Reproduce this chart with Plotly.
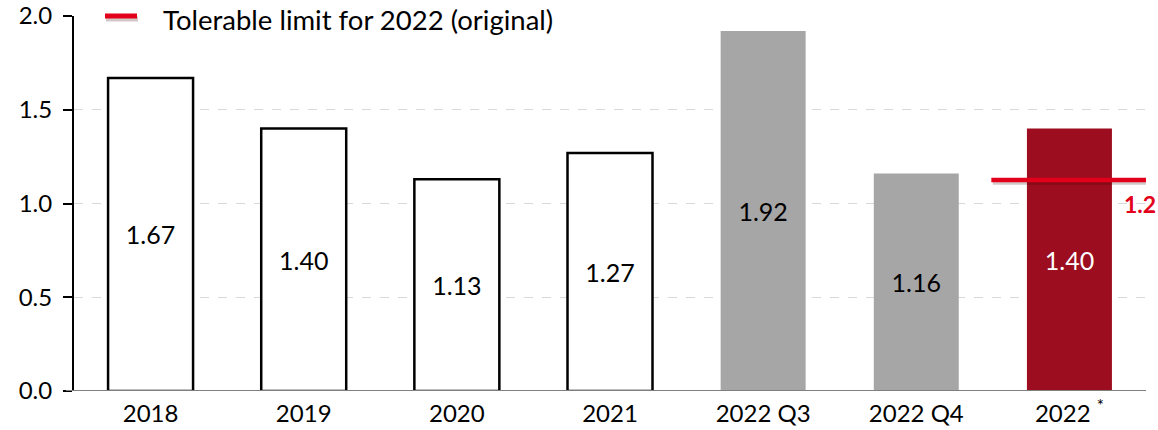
import plotly.graph_objects as go

categories = ["2018", "2019", "2020", "2021", "2022 Q3", "2022 Q4", "2022"]
tick_labels = ["2018", "2019", "2020", "2021", "2022 Q3", "2022 Q4", "2022 <sup>*</sup>"]
values = [1.67, 1.40, 1.13, 1.27, 1.92, 1.16, 1.40]
fill_colors = ["#ffffff", "#ffffff", "#ffffff", "#ffffff", "#a6a6a6", "#a6a6a6", "#9b0d1f"]
line_colors = ["#000000", "#000000", "#000000", "#000000", "#a6a6a6", "#a6a6a6", "#9b0d1f"]
line_widths = [2.5, 2.5, 2.5, 2.5, 0, 0, 0]
text_colors = ["#000000"] * 6 + ["#ffffff"]

limit_level = 1.125
limit_label = "1.2"
legend_text = "Tolerable limit for 2022 (original)"

FONT = "Lato"
RED = "#e2001a"
PW = 1072  # plot width in px
PH = 375   # plot height in px

fig = go.Figure()
fig.add_trace(go.Bar(
    x=list(range(len(categories))), y=values,
    width=0.555,
    marker=dict(color=fill_colors, line=dict(color=line_colors, width=line_widths)),
    text=[f"{v:.2f}" for v in values],
    textposition="inside", insidetextanchor="middle",
    textfont=dict(family=FONT, size=25, color=text_colors),
    showlegend=False,
))

shapes = [
    # limit line shadow + line
    dict(type="line", xref="x", yref="y", x0=5.5, x1=6.51, y0=limit_level - 0.012, y1=limit_level - 0.012,
         line=dict(color="rgba(60,0,0,0.22)", width=5)),
    dict(type="line", xref="x", yref="y", x0=5.49, x1=6.5, y0=limit_level, y1=limit_level,
         line=dict(color=RED, width=4.5)),
    # x axis baseline extended to the left
    dict(type="line", xref="paper", yref="y", x0=-8 / PW, x1=1, y0=0, y1=0,
         line=dict(color="#7f7f7f", width=2)),
    # legend sample line
    dict(type="line", xref="paper", yref="paper", x0=(106 - 74) / PW, x1=(138 - 74) / PW,
         y0=1.0 - 3 / PH, y1=1.0 - 3 / PH, line=dict(color="rgba(60,0,0,0.22)", width=5)),
    dict(type="line", xref="paper", yref="paper", x0=(105 - 74) / PW, x1=(137 - 74) / PW,
         y0=1.0, y1=1.0, line=dict(color=RED, width=5)),
]

annotations = [
    dict(xref="paper", yref="paper", x=(161 - 74) / PW, y=1.0, xanchor="left", yanchor="middle",
         yshift=-3, text=legend_text, showarrow=False, font=dict(family=FONT, size=27.5, color="#000000")),
    dict(xref="paper", yref="y", x=1.0 + 12 / PW, y=1.0, xanchor="right", yanchor="middle",
         text=limit_label, showarrow=False, font=dict(family=FONT, size=23, color=RED, weight="bold")),
]

fig.update_layout(
    width=1158, height=430,
    margin=dict(l=74, r=12, t=16, b=39, autoexpand=False),
    paper_bgcolor="white", plot_bgcolor="white",
    shapes=shapes, annotations=annotations,
    xaxis=dict(
        range=[-0.5, 6.5], tickvals=list(range(len(categories))), ticktext=tick_labels,
        showgrid=False, showline=False, zeroline=False, ticks="", automargin=False,
        ticklabelstandoff=6,
        tickfont=dict(family=FONT, size=24, color="#000000"),
    ),
    yaxis=dict(
        range=[0, 2.0], tickvals=[0, 0.5, 1.0, 1.5, 2.0], ticktext=["0.0", "0.5", "1.0", "1.5", "2.0"],
        showgrid=True, gridcolor="#d9d9d9", griddash="dash", gridwidth=1.2,
        showline=True, linecolor="#000000", linewidth=2,
        ticks="outside", ticklen=9, tickwidth=1.5, tickcolor="#000000",
        zeroline=False, ticklabelstandoff=6, automargin=False,
        tickfont=dict(family=FONT, size=24, color="#000000"),
    ),
)

fig.write_html("out.html")
